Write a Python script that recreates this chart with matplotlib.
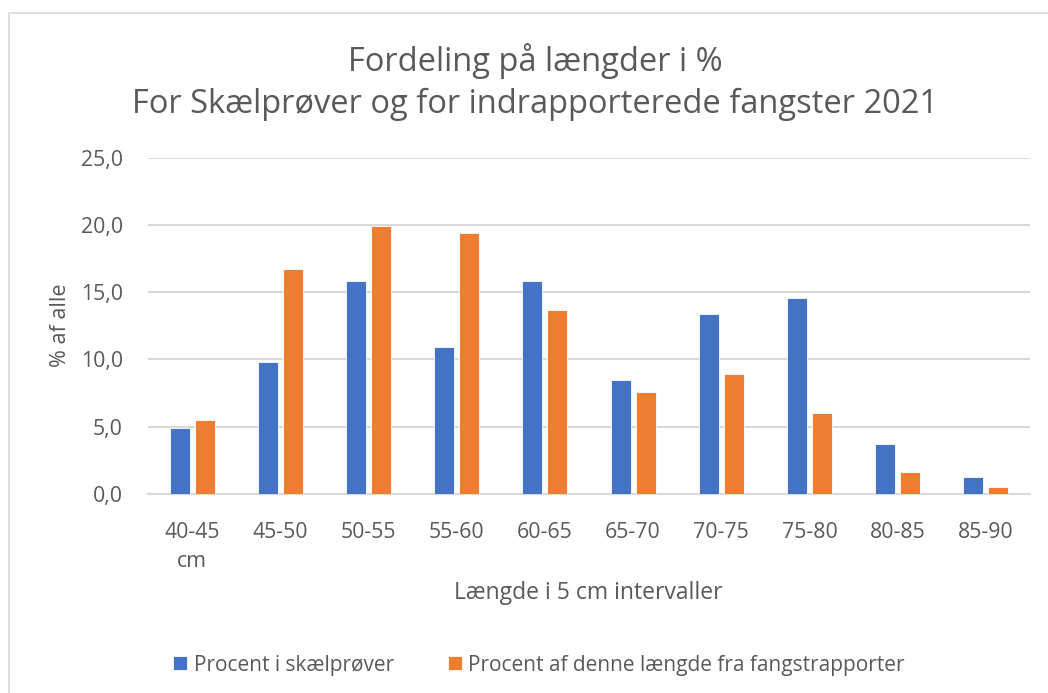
import numpy as np
import matplotlib.pyplot as plt
from matplotlib.patches import Rectangle

plt.rcParams['font.family'] = ['Open Sans', 'DejaVu Sans']

categories = ['40-45\ncm', '45-50', '50-55', '55-60', '60-65',
              '65-70', '70-75', '75-80', '80-85', '85-90']
skael = [4.9, 9.8, 15.8, 10.9, 15.8, 8.5, 13.4, 14.6, 3.7, 1.3]
fangst = [5.5, 16.7, 19.9, 19.4, 13.7, 7.6, 8.9, 6.0, 1.6, 0.5]

blue = '#4472C4'
orange = '#ED7D31'
txt = '#595959'

W, H = 1048, 693
fig = plt.figure(figsize=(W / 100, H / 100), dpi=100)

# chart border (right and bottom are cropped in the original)
fig.patches.append(Rectangle((8.5 / W, -0.1), 1.2, 1 - 13.5 / H + 0.1,
                             transform=fig.transFigure, fill=False,
                             edgecolor='#D9D9D9', linewidth=1.2))

ax = fig.add_axes([148 / W, 1 - 494 / H, 882 / W, (494 - 157.7) / H])

x = np.arange(len(categories))
bw = 0.227
off = 0.142
ax.bar(x - off, skael, bw, color=blue, edgecolor='white', linewidth=0.6,
       label='Procent i skælprøver', zorder=3)
ax.bar(x + off, fangst, bw, color=orange, edgecolor='white', linewidth=0.6,
       label='Procent af denne længde fra fangstrapporter', zorder=3)

ax.set_xlim(-0.5, len(categories) - 0.5)
ax.set_ylim(0, 25)
ax.set_yticks(np.arange(0, 26, 5))
ax.set_yticklabels([f'{v:.1f}'.replace('.', ',') for v in np.arange(0, 26, 5)])
ax.set_xticks(x)
ax.set_xticklabels(categories, linespacing=1.5)
ax.tick_params(axis='both', length=0, labelsize=15.3, colors=txt)
ax.tick_params(axis='x', pad=20)
ax.tick_params(axis='y', pad=18)
ax.grid(axis='y', color='#D9D9D9', linewidth=1.5, zorder=0)
for s in ['top', 'right', 'left']:
    ax.spines[s].set_visible(False)
ax.spines['bottom'].set_color('#D9D9D9')
ax.spines['bottom'].set_linewidth(1.5)

fig.text(535 / W, 1 - 61 / H, 'Fordeling på længder i %', ha='center',
         va='center', fontsize=23.5, color=txt)
fig.text(535 / W, 1 - 104 / H, 'For Skælprøver og for indrapporterede fangster 2021',
         ha='center', va='center', fontsize=23.5, color=txt)

fig.text(588 / W, 1 - 593 / H, 'Længde i 5 cm intervaller', ha='center',
         va='center', fontsize=16.5, color=txt)
fig.text(60 / W, 1 - 325 / H, '% af alle', ha='center', va='center',
         rotation=90, fontsize=15.5, color=txt)

leg = fig.legend(loc='center', bbox_to_anchor=(539 / W, 1 - 665 / H), ncol=2,
                 frameon=False, fontsize=15, labelcolor=txt, handlelength=0.67,
                 handleheight=0.67, columnspacing=2.6, handletextpad=0.3)

fig.savefig('out.png', dpi=100)
